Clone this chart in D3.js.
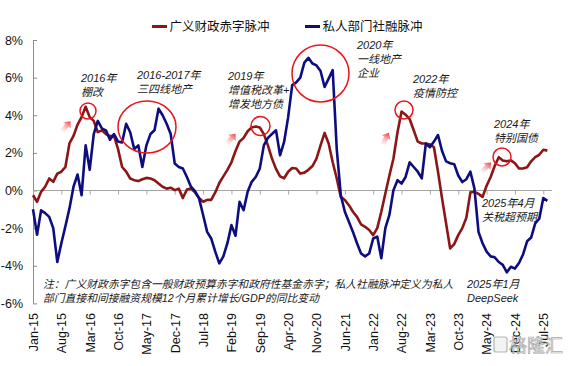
<!DOCTYPE html>
<html><head><meta charset="utf-8">
<script src="https://cdn.jsdelivr.net/npm/d3@7"></script>
<style>
body{margin:0;background:#fff;}
svg{display:block;font-family:"Liberation Sans",Arial,"Noto Sans CJK SC",sans-serif;}
</style></head>
<body>
<svg id="chart" width="572" height="366"></svg>
<script>
// ---- data ----
const startMonth = "2015-01";   // first category (Jan-15), monthly to Aug-25
const seriesNames = ["广义财政赤字脉冲", "私人部门社融脉冲"];
const fiscal = [
 -0.25,-0.6,-0.07,0.2,0.64,0.46,0.9,1.0,1.25,2.5,2.9,3.5,
 3.9,4.45,3.9,3.7,3.1,3.2,3.0,2.9,2.9,2.2,1.25,1.0,
 0.64,0.55,0.5,0.6,0.67,0.64,0.55,0.37,0.2,0.1,0.15,0.02,
 0.1,-0.4,0.05,0.1,-0.1,-0.4,-0.6,-0.5,-0.5,-0.1,0.4,0.75,
 1.1,1.5,2.1,2.6,2.8,3.15,3.35,3.4,3.35,3.0,2.4,1.7,
 1.15,0.75,0.65,1.0,1.2,1.17,0.9,0.95,1.1,1.3,1.7,2.4,
 3.06,2.5,1.5,0.64,-0.34,-0.5,-0.78,-1.13,-1.4,-1.8,-1.93,-2.1,
 -2.37,-2.0,-1.13,-0.16,0.8,1.7,3.1,4.2,4.03,3.8,3.2,2.6,
 2.5,2.5,2.45,2.3,1.0,-0.42,-1.75,-3.08,-2.85,-2.37,-2.0,-1.45,
 -0.1,-0.07,-0.18,-0.34,0.25,0.72,1.3,1.77,1.6,1.55,1.6,1.45,
 1.17,1.17,1.24,1.55,1.77,1.9,2.17,2.12
];
const privateCredit = [
 -1.0,-2.35,-1.05,-1.2,-1.4,-2.0,-3.8,-2.8,-1.9,-0.95,0.2,0.85,
 -0.25,2.4,1.1,3.0,3.7,3.3,3.2,2.7,3.0,2.6,2.55,3.55,
 3.1,2.2,2.4,1.25,2.4,3.0,3.2,4.35,4.0,3.55,3.0,1.43,
 1.25,1.17,0.72,0.2,-0.03,-0.42,-1.3,-2.2,-2.55,-3.25,-3.87,-3.5,
 -2.8,-1.84,-2.4,-0.6,-1.05,-0.07,0.46,0.72,1.17,2.4,2.8,3.0,
 3.2,1.87,2.58,3.9,5.6,5.75,6.0,6.8,7.05,6.75,6.65,6.35,
 5.5,5.95,6.4,2.2,-0.25,-1.13,-1.66,-2.2,-2.8,-3.35,-3.5,-3.35,
 -2.55,-2.45,-3.6,-2.0,-1.3,0.02,0.55,0.37,0.72,1.5,1.25,1.0,
 0.65,2.5,2.3,2.6,2.95,2.1,1.55,1.45,1.4,0.8,0.45,0.6,
 1.0,0.1,-2.2,-2.8,-3.25,-3.5,-3.55,-3.8,-3.95,-4.35,-4.05,-4.15,
 -3.85,-3.4,-2.7,-2.5,-1.75,-1.5,-0.4,-0.55
];
const tickLabels = ["Jan-15","Aug-15","Mar-16","Oct-16","May-17","Dec-17","Jul-18","Feb-19","Sep-19",
 "Apr-20","Nov-20","Jun-21","Jan-22","Aug-22","Mar-23","Oct-23","May-24","Dec-24","Jul-25"];
const yTicks = [-6,-4,-2,0,2,4,6,8];
const noteLines = ["注：广义财政赤字包含一般财政预算赤字和政府性基金赤字；私人社融脉冲定义为私人",
 "部门直接和间接融资规模12个月累计增长/GDP的同比变动"];
const annotations = [
 {lines:["2016年","棚改"], x:81, y:82},
 {lines:["2016-2017年","三四线地产"], x:137, y:79},
 {lines:["2019年","增值税改革+","增发地方债"], x:228, y:80},
 {lines:["2020年","一线地产","企业"], x:357, y:49},
 {lines:["2022年","疫情防控"], x:413, y:82.5},
 {lines:["2024年","特别国债"], x:494, y:127.5},
 {lines:["2025年4月","关税超预期"], x:482, y:207},
 {lines:["2025年1月","DeepSeek"], x:467, y:288}
];
const circles = [
 {cx:88, cy:111, rx:8, ry:8},
 {cx:147, cy:127, rx:29, ry:26},
 {cx:260.5, cy:126, rx:9.5, ry:9.5},
 {cx:320.5, cy:73.5, rx:28.5, ry:28.5},
 {cx:404, cy:110, rx:9, ry:9},
 {cx:502, cy:157, rx:9, ry:9}
];
const arrows = [
 {x:66, y:126.5, rot:40},
 {x:231, y:139, rot:40},
 {x:385.5, y:139, rot:28},
 {x:486, y:167.5, rot:45}
];

// ---- build ----
const parse = d3.timeParse("%Y-%m");
const fmt = d3.timeFormat("%b-%y");
const start = parse(startMonth);
const categories = d3.range(fiscal.length).map(i => fmt(d3.timeMonth.offset(start, i)));

const svg = d3.select("#chart");
const RED = "#8c1616", BLUE = "#0d0d80";
const x = d3.scalePoint().domain(categories).range([33, 33 + 4.05 * (categories.length - 1)]);
const y = d3.scaleLinear().domain([-6, 8]).range([303.4, 40]);

// defs: arrow gradient
const defs = svg.append("defs");
const grad = defs.append("linearGradient").attr("id","ag").attr("x1",0).attr("y1",1).attr("x2",0).attr("y2",0);
grad.append("stop").attr("offset","0%").attr("stop-color","#ffd0d0").attr("stop-opacity",0.3);
grad.append("stop").attr("offset","100%").attr("stop-color","#ee3535");

// y axis
const yAxis = svg.append("g").attr("transform","translate(33,0)")
  .call(d3.axisLeft(y).tickValues(yTicks).tickFormat(d => d + "%").tickSizeInner(-4).tickSizeOuter(0).tickPadding(10));
yAxis.select(".domain").attr("stroke","#8c8c8c");
yAxis.selectAll(".tick line").attr("stroke","#8c8c8c");
yAxis.selectAll("text").attr("font-size","12.5px").attr("fill","#111").attr("font-family","'Liberation Sans',Arial,sans-serif");

// zero axis with ticks
const tickCats = categories.filter(c => tickLabels.includes(c));
const xAxis = svg.append("g").attr("transform",`translate(0,${y(0)})`)
  .call(d3.axisBottom(x).tickValues(tickCats).tickFormat("").tickSizeInner(4).tickSizeOuter(0));
xAxis.select(".domain").attr("stroke","#a6a6a6").attr("d",`M33,0H552`);
xAxis.selectAll(".tick line").attr("stroke","#a6a6a6");

// bottom labels
const xLab = svg.append("g").attr("transform","translate(0,309)")
  .call(d3.axisBottom(x).tickValues(tickCats).tickSize(0).tickPadding(0));
xLab.select(".domain").remove();
xLab.selectAll("text")
  .attr("font-size","12.5px").attr("fill","#111")
  .attr("font-family","'Liberation Sans',Arial,sans-serif")
  .attr("transform","rotate(-90)").attr("text-anchor","end")
  .attr("x",-4).attr("y",0).attr("dy","0.35em");

// note text
const note = svg.append("text").attr("x",43).attr("y",288)
  .attr("font-size","10.8px").attr("font-style","italic").attr("fill","#1a1a1a")
  .attr("font-family","'Liberation Sans',Arial,'Noto Sans CJK SC',sans-serif");
noteLines.forEach((t,i) => note.append("tspan").attr("x",43).attr("y",288 + i*14).text(t));

// lines
const line = d3.line().x((d,i) => x(categories[i])).y(d => y(d));
svg.append("path").datum(fiscal).attr("d",line).attr("fill","none")
  .attr("stroke",RED).attr("stroke-width",2.6).attr("stroke-linejoin","round");
svg.append("path").datum(privateCredit).attr("d",line).attr("fill","none")
  .attr("stroke",BLUE).attr("stroke-width",2.6).attr("stroke-linejoin","round");

// circles
svg.selectAll("ellipse.hl").data(circles).enter().append("ellipse").attr("class","hl")
  .attr("cx",d=>d.cx).attr("cy",d=>d.cy).attr("rx",d=>d.rx).attr("ry",d=>d.ry)
  .attr("fill","none").attr("stroke","#e8161c").attr("stroke-width",1.5);

// arrows
svg.selectAll("path.arr").data(arrows).enter().append("path").attr("class","arr")
  .attr("d","M0,-7 L5,-1.5 L2.3,-1.5 L2.3,6 L-2.3,6 L-2.3,-1.5 L-5,-1.5 Z")
  .attr("fill","url(#ag)")
  .attr("transform",d=>`translate(${d.x},${d.y}) rotate(${d.rot})`);

// annotations
annotations.forEach(a => {
  const t = svg.append("text").attr("font-size","11px").attr("font-style","italic").attr("fill","#1a1a1a")
    .attr("font-family","'Liberation Sans',Arial,'Noto Sans CJK SC',sans-serif");
  a.lines.forEach((l,i) => t.append("tspan").attr("x",a.x).attr("y",a.y + i*14.2).text(l));
});

// legend
const legendItems = [{name:seriesNames[0], color:RED, x:152},{name:seriesNames[1], color:BLUE, x:305}];
const lg = svg.selectAll("g.lg").data(legendItems).enter().append("g").attr("class","lg");
lg.append("line").attr("x1",d=>d.x).attr("x2",d=>d.x+15).attr("y1",26.5).attr("y2",26.5)
  .attr("stroke",d=>d.color).attr("stroke-width",3);
lg.append("text").attr("x",d=>d.x+17.5).attr("y",31).attr("font-size","12.5px").attr("fill","#111")
  .attr("font-family","'Noto Sans CJK SC',sans-serif").text(d=>d.name);

// watermark
const wm = svg.append("g").attr("opacity",0.85);
wm.append("rect").attr("x",494).attr("y",337).attr("width",13).attr("height",15).attr("rx",2)
  .attr("fill","rgba(240,240,240,0.9)").attr("stroke","#a8a8a8").attr("stroke-width",1.2);
wm.append("text").attr("x",509).attr("y",352).attr("font-size","18px")
  .attr("font-family","'Noto Sans CJK SC',sans-serif")
  .attr("fill","rgba(238,238,238,0.95)").attr("stroke","#9a9a9a").attr("stroke-width",0.7)
  .text("格隆汇");
</script>
</body></html>
